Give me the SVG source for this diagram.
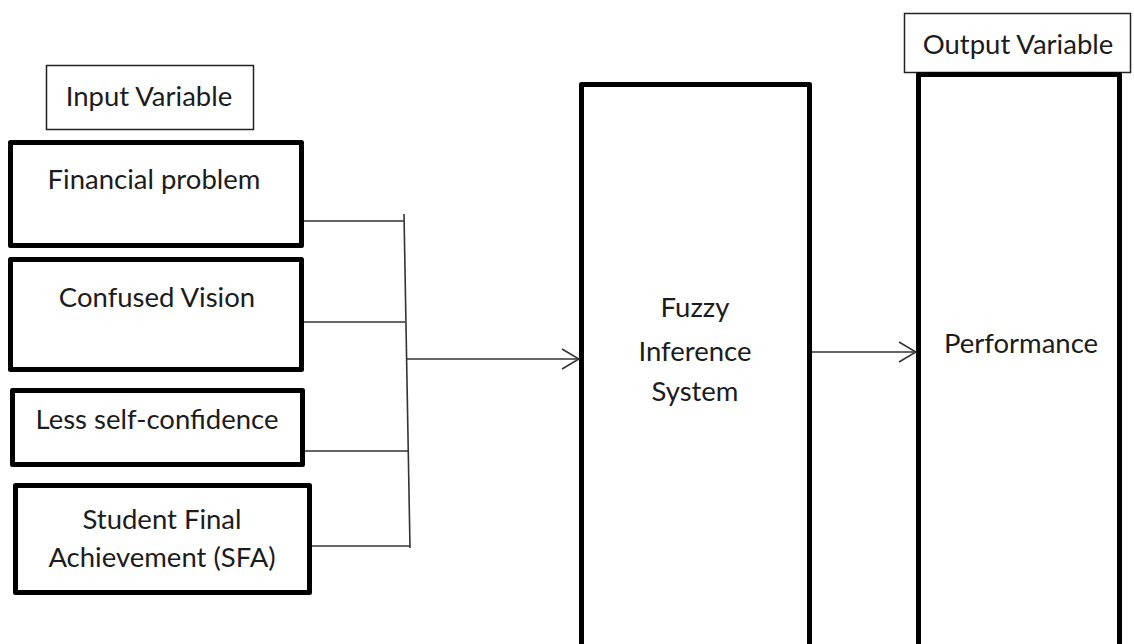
<svg xmlns="http://www.w3.org/2000/svg" width="1134" height="644" viewBox="0 0 1134 644">
  <style>
    .label { fill: #ffffff; stroke: #222222; stroke-width: 1.5; }
    .box { fill: #ffffff; stroke: #000000; stroke-width: 5; stroke-linejoin: round; }
    .txt { font-family: Lato, "Open Sans", "Liberation Sans", sans-serif; font-size: 27.5px; fill: #1c1c1c; text-anchor: middle; }
    .wire { fill: none; stroke: #333333; stroke-width: 1.6; }
  </style>
  <defs>
    <marker id="open-arrow" viewBox="0 0 20 24" refX="19" refY="12" markerWidth="20" markerHeight="24" markerUnits="userSpaceOnUse" orient="auto">
      <path d="M2,2 L19,12 L2,22" fill="none" stroke="#333333" stroke-width="1.6"/>
    </marker>
  </defs>

  <rect width="1134" height="644" fill="#ffffff"/>

  <!-- input section heading -->
  <g id="input-variable">
    <rect class="label" x="46.5" y="65.5" width="207" height="64"/>
    <text class="txt" x="149" y="106">Input Variable</text>
  </g>

  <!-- input factors -->
  <g id="financial-problem">
    <rect class="box" x="10.5" y="142.5" width="291" height="103"/>
    <text class="txt" x="154" y="189">Financial problem</text>
  </g>
  <g id="confused-vision">
    <rect class="box" x="10.5" y="259.5" width="291" height="110"/>
    <text class="txt" x="157" y="307">Confused Vision</text>
  </g>
  <g id="less-self-confidence">
    <rect class="box" x="12.5" y="390.5" width="290" height="74"/>
    <text class="txt" x="157" y="429">Less self-confidence</text>
  </g>
  <g id="student-final-achievement">
    <rect class="box" x="15.5" y="485.5" width="294" height="107"/>
    <text class="txt" x="162" y="529">Student Final</text>
    <text class="txt" x="162" y="567">Achievement (SFA)</text>
  </g>

  <!-- inference engine -->
  <g id="fuzzy-inference-system">
    <rect class="box" x="581.5" y="84.5" width="228" height="590"/>
    <text class="txt" x="695" y="317">Fuzzy</text>
    <text class="txt" x="695" y="361">Inference</text>
    <text class="txt" x="695" y="401">System</text>
  </g>

  <!-- output section heading -->
  <g id="output-variable">
    <rect class="label" x="904.5" y="13.5" width="226" height="59"/>
    <text class="txt" x="1018" y="54">Output Variable</text>
  </g>
  <g id="performance">
    <rect class="box" x="918.5" y="74.5" width="201" height="590"/>
    <text class="txt" x="1021" y="353">Performance</text>
  </g>

  <!-- connectors -->
  <g id="connectors">
    <line class="wire" x1="304" y1="221" x2="404" y2="221"/>
    <line class="wire" x1="304" y1="322" x2="405" y2="322"/>
    <line class="wire" x1="305" y1="451" x2="409" y2="451"/>
    <line class="wire" x1="312" y1="546" x2="410" y2="546"/>
    <line class="wire" x1="404" y1="214" x2="410" y2="548"/>
    <line class="wire" x1="407" y1="359" x2="579" y2="359" marker-end="url(#open-arrow)"/>
    <line class="wire" x1="812" y1="352" x2="916" y2="352" marker-end="url(#open-arrow)"/>
  </g>
</svg>
